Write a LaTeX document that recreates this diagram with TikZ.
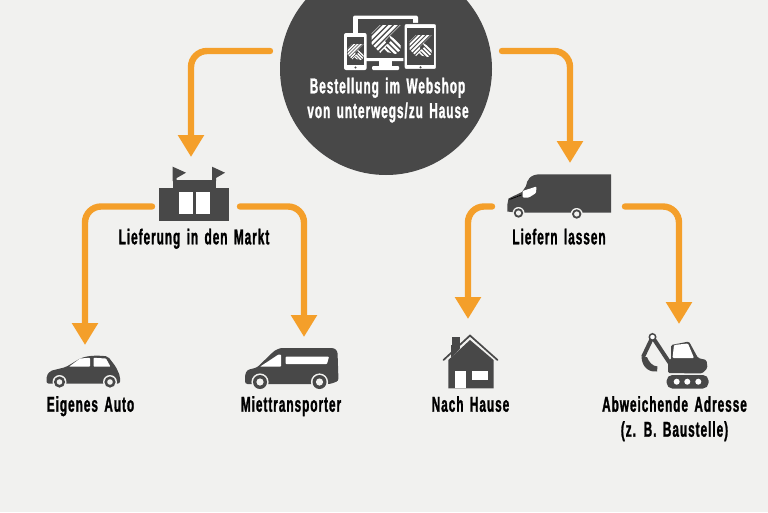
\documentclass[tikz,border=0pt]{standalone}
\usepackage{fontspec}
\usetikzlibrary{arrows.meta}
\newfontfamily\labelfont[FakeStretch=0.55,LetterSpace=4.5,FakeBold=1.2,WordSpace=1.5]{Liberation Sans Bold}
\definecolor{paper}{HTML}{F1F1EF}
\definecolor{slate}{HTML}{484848}
\definecolor{flowcol}{HTML}{F49F2A}
\tikzset{
  flow/.style={draw=flowcol, line width=6.4, line cap=round, rounded corners=16,
    -{Triangle[length=22,width=25]}},
  caption/.style={font=\labelfont\fontsize{21.5pt}{25pt}\selectfont, text=black, inner sep=0pt, align=center, anchor=base},
  iconfill/.style={fill=slate},
  gap/.style={fill=paper},
  shine/.style={fill=white}
}
% striped logo, unit square scaled to #3
\newcommand{\logomark}[3]{%
  \begin{scope}[shift={(#1,#2)}, scale=#3]
    \begin{scope}
      \clip (0,0.3) -- (0.3,0) -- (1,0) -- (0.46,0.55) -- (0.56,0.68) -- (0.3,0.96) -- (0,0.65) -- cycle;
      \foreach \s in {0.1,0.3,...,2}
        \draw[white, line width=#3*0.085] (\s,-0.05) -- (\s-1.1,1.05);
    \end{scope}
    \begin{scope}
      \clip (0.62,0.36) -- (1,0.62) -- (1,0.86) -- (0.84,1) -- (0.56,0.94) -- (0.42,0.8) -- (0.66,0.56) -- cycle;
      \foreach \s in {-0.8,-0.6,...,1}
        \draw[white, line width=#3*0.085] (\s,-0.05) -- (\s+1.1,1.05);
    \end{scope}
  \end{scope}}
\begin{document}
\begin{tikzpicture}[x=1pt, y=-1pt]
    \fill[paper] (0,0) rectangle (768,512);
    \useasboundingbox (0,0) rectangle (768,512);

    % top circle, cut by the page edge
    \begin{scope}
      \clip (0,0) rectangle (768,512);
      \node[circle, fill=slate, minimum size=212pt, inner sep=0pt] (hub) at (386,69) {};
    \end{scope}

    % screens
    \fill[shine, rounded corners=2] (353,15.5) rectangle (418,61);
    \fill[slate] (358,19) rectangle (413,58);
    \fill[shine] (379,60) rectangle (392,66);
    \fill[shine, rounded corners=1] (372,66) rectangle (399,70);
    \fill[shine, rounded corners=2, draw=slate, line width=1.2] (404,23.5) rectangle (436.5,69.5);
    \fill[slate] (407.3,27.7) rectangle (434,65);
    \fill[slate] (420.5,67.3) circle (1.2);
    \fill[shine, rounded corners=2] (344,33) rectangle (366.7,70);
    \fill[slate] (346.7,37) rectangle (364.3,65);
    \fill[slate] (355.5,67.5) circle (1.1);
    \logomark{371.5}{25}{29}
    \logomark{409.5}{35}{22}
    \logomark{347.5}{44}{16}
    \node[caption, text=white] (hubtextA) at (387.5,93.3) {Bestellung im Webshop};
    \node[caption, text=white] (hubtextB) at (388,118) {von unterwegs/zu Hause};

    % market
    \fill[iconfill] (159.3,187.7) rectangle (229.3,220.7);
    \fill[iconfill] (172.7,180) rectangle (216,188);
    \fill[iconfill] (172.7,166.7) -- (186,172.7) -- (176.7,178) -- (176.7,181) -- (172.7,181) -- cycle;
    \fill[iconfill] (212,166.7) -- (225,172.7) -- (216,178) -- (216,181) -- (212,181) -- cycle;
    \fill[shine] (179,191.7) rectangle (192.7,213.7);
    \fill[shine] (196.3,191.7) rectangle (210,213.7);
    \node[caption] (markt) at (194,244.3) {Lieferung in den Markt};

    % truck
    \fill[iconfill] (611,174.3) -- (540,174.3) .. controls (530,174.3) and (527,180) .. (526,186)
      -- (522,192) -- (508.5,198.5) -- (507.3,205) -- (507.3,211.5) -- (518,212.7) -- (611,212.7) -- cycle;
    \fill[gap] (518.5,213) circle (6);
    \fill[iconfill] (518.5,213) circle (4.7);
    \fill[gap] (518.5,213) circle (2.6);
    \fill[gap] (576.7,214) circle (6);
    \fill[iconfill] (576.7,214) circle (4.7);
    \fill[gap] (576.7,214) circle (2.6);
    \fill[shine, rounded corners=1] (522.5,191) -- (536.5,186.5) -- (536,193) -- (529,197.5) -- (522.5,197.5) -- cycle;
    \draw[gap, line width=0.8] (509.5,199.5) -- (521.5,195);
    \node[caption] (truck) at (559,244.3) {Liefern lassen};

    % car
    \fill[iconfill, rounded corners=2] (46.5,383.5) -- (46.5,376) -- (50,371) -- (66,367) -- (80,358.5)
      .. controls (90,355) and (100,355.5) .. (108,356.5) -- (116,367) -- (120,376) -- (120,383.5) -- cycle;
    \foreach \cx in {59.5,110}{
      \fill[gap] (\cx,382) circle (7);
      \fill[iconfill] (\cx,382) circle (5.6);
      \fill[gap] (\cx,382) circle (2.8);
    }
    \fill[shine, rounded corners=0.8] (69,366.7) -- (80,358.5) -- (90,357.8) -- (90,366.7) -- cycle;
    \fill[shine, rounded corners=0.8] (93.5,357.8) -- (106,358.5) -- (110.5,366.7) -- (93.5,366.7) -- cycle;
    \node[caption] (auto) at (90.5,411.7) {Eigenes Auto};

    % van
    \fill[iconfill, rounded corners=2.5] (245,384) -- (245,375) -- (247,370) -- (257,367.5) -- (273,352)
      .. controls (277,349) and (281,348) .. (285,348) -- (334,348) -- (337.5,351) -- (338.5,381) -- (330,384) -- cycle;
    \foreach \cx in {260,319.5}{
      \fill[gap] (\cx,382) circle (8.6);
      \fill[iconfill] (\cx,382) circle (7);
      \fill[gap] (\cx,382) circle (3.6);
    }
    \fill[shine, rounded corners=0.8] (260,366.7) -- (278.5,354.5) -- (281,354.5) -- (281,366.7) -- cycle;
    \fill[shine, rounded corners=0.8] (285.5,356.7) -- (329,356.7) -- (327,364) -- (285.5,364) -- cycle;
    \node[caption] (van) at (291,411.7) {Miettransporter};

    % house
    \fill[iconfill] (451,345) rectangle (460,360);
    \fill[gap] (447,362) -- (470,338.5) -- (496,362) -- cycle;
    \fill[iconfill] (448.3,388.3) -- (448.3,360) -- (470,340) -- (493.5,360) -- (493.5,388.3) -- cycle;
    \fill[iconfill] (451.7,336.7) rectangle (460,346);
    \draw[slate, line width=1.7, line cap=round] (443.5,360) -- (470,335.5) -- (497.5,360);
    \fill[shine] (455,370.7) rectangle (466,388.3);
    \fill[shine] (471.7,370.7) rectangle (488.3,380);
    \node[caption] (house) at (470.5,411.7) {Nach Hause};

    % excavator
    \fill[iconfill, rounded corners=5.5] (666.7,375) rectangle (708.5,388.5);
    \foreach \cx in {676.7,687.3,698.3}
      \fill[shine] (\cx,381.7) circle (3);
    \fill[iconfill, rounded corners=1.5] (668,373) -- (668,360) -- (671,360) -- (671,345) -- (689,341.5)
      -- (698,358) -- (706.5,360) -- (707.5,368) -- (702,373.5) -- cycle;
    \fill[shine, rounded corners=1] (672.5,358) -- (674,345) -- (688,343.5) -- (694,358) -- cycle;
    \draw[slate, line width=4] (671,365) -- (652.5,337) -- (643,357);
    \fill[shine, draw=slate, line width=1.5] (652.5,337) circle (3.2);
    \fill[iconfill] (641.5,357) .. controls (642,368) and (650,372.5) .. (657,371.5) -- (657.5,366.5)
      .. controls (652,366) and (649,362) .. (647,357) -- cycle;
    \node[caption] (digger) at (674.5,436.7) {Abweichende Adresse\\(z. B. Baustelle)};

    % free ends of the arrows
    \coordinate (hubL) at (270,51);
    \coordinate (hubR) at (502,51);
    \coordinate (marktL) at (152,206.5);
    \coordinate (marktR) at (240,206.5);
    \coordinate (truckL) at (492,206.5);
    \coordinate (truckR) at (625,206.5);
    \coordinate (marktIn) at (191,157);
    \coordinate (truckIn) at (570,163);
    \coordinate (autoIn) at (85,345);
    \coordinate (vanIn) at (304,337);
    \coordinate (houseIn) at (468,319);
    \coordinate (diggerIn) at (679,324);

    \draw[flow] (hubL) -| (marktIn);
    \draw[flow] (hubR) -| (truckIn);
    \draw[flow] (marktL) -| (autoIn);
    \draw[flow] (marktR) -| (vanIn);
    \draw[flow] (truckL) -| (houseIn);
    \draw[flow] (truckR) -| (diggerIn);
\end{tikzpicture}
\end{document}
